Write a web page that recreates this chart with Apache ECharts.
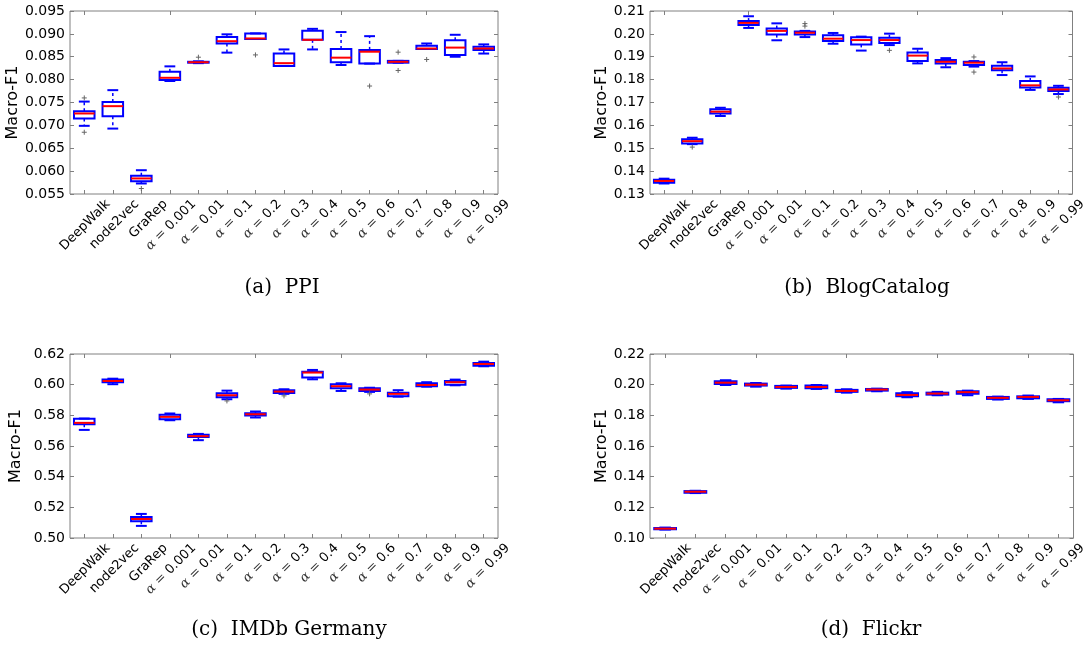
<!DOCTYPE html>
<html>
<head>
<meta charset="utf-8">
<script src="https://cdn.jsdelivr.net/npm/echarts@6/dist/echarts.min.js"></script>
<style>
  html, body { margin: 0; padding: 0; background: #fff; }
  #chart { width: 1089px; height: 645px; }
</style>
</head>
<body>
<div id="chart"></div>
<script>
// categories
const allCats = ['DeepWalk', 'node2vec', 'GraRep', 'α = 0.001', 'α = 0.01', 'α = 0.1', 'α = 0.2',
  'α = 0.3', 'α = 0.4', 'α = 0.5', 'α = 0.6', 'α = 0.7', 'α = 0.8', 'α = 0.9', 'α = 0.99'];
const flickrCats = allCats.filter(c => c !== 'GraRep');

// boxes: [min, q1, median, q3, max]
const ppiBoxes = [
  [0.0699, 0.0715, 0.0726, 0.0731, 0.0752],
  [0.0693, 0.0720, 0.0742, 0.0751, 0.0777],
  [0.0573, 0.0578, 0.0584, 0.0590, 0.0602],
  [0.0797, 0.0799, 0.0804, 0.0817, 0.0829],
  [0.0836, 0.0837, 0.0838, 0.0839, 0.0840],
  [0.0859, 0.0879, 0.0884, 0.0893, 0.0899],
  [0.0889, 0.0889, 0.0890, 0.0901, 0.0901],
  [0.0830, 0.0830, 0.0836, 0.0857, 0.0866],
  [0.0866, 0.0887, 0.0887, 0.0907, 0.0911],
  [0.0832, 0.0838, 0.0848, 0.0867, 0.0904],
  [0.0835, 0.0835, 0.0861, 0.0865, 0.0895],
  [0.0837, 0.0837, 0.0839, 0.0841, 0.0841],
  [0.0867, 0.0867, 0.0868, 0.0874, 0.0879],
  [0.0850, 0.0854, 0.0870, 0.0886, 0.0898],
  [0.0857, 0.0865, 0.0868, 0.0872, 0.0877]
];
const ppiOutliers = [[0, 0.0760], [0, 0.0685], [2, 0.0562], [4, 0.0849], [6, 0.0854],
  [10, 0.0786], [11, 0.0860], [11, 0.0820], [12, 0.0844]];

const blogBoxes = [
  [0.1346, 0.1349, 0.1357, 0.1362, 0.1367],
  [0.1518, 0.1521, 0.1531, 0.1539, 0.1546],
  [0.1641, 0.1652, 0.1660, 0.1670, 0.1677],
  [0.2026, 0.2039, 0.2048, 0.2056, 0.2077],
  [0.1972, 0.1997, 0.2013, 0.2023, 0.2046],
  [0.1986, 0.1997, 0.2005, 0.2010, 0.2013],
  [0.1957, 0.1969, 0.1979, 0.1994, 0.2004],
  [0.1927, 0.1954, 0.1973, 0.1985, 0.1988],
  [0.1951, 0.1960, 0.1973, 0.1983, 0.2001],
  [0.1871, 0.1881, 0.1905, 0.1919, 0.1935],
  [0.1854, 0.1870, 0.1878, 0.1886, 0.1894],
  [0.1857, 0.1864, 0.1874, 0.1878, 0.1881],
  [0.1820, 0.1841, 0.1849, 0.1861, 0.1876],
  [0.1755, 0.1766, 0.1775, 0.1794, 0.1814],
  [0.1737, 0.1750, 0.1757, 0.1765, 0.1773]
];
const blogOutliers = [[1, 0.1505], [5, 0.2045], [5, 0.2034], [8, 0.1928], [11, 0.1899],
  [11, 0.1833], [14, 0.1724]];

const imdbBoxes = [
  [0.5705, 0.5742, 0.5751, 0.5777, 0.5779],
  [0.6003, 0.6016, 0.6024, 0.6033, 0.6039],
  [0.5079, 0.5109, 0.5124, 0.5137, 0.5157],
  [0.5768, 0.5775, 0.5790, 0.5803, 0.5812],
  [0.5638, 0.5658, 0.5664, 0.5673, 0.5679],
  [0.5905, 0.5918, 0.5931, 0.5944, 0.5961],
  [0.5786, 0.5799, 0.5807, 0.5814, 0.5825],
  [0.5940, 0.5946, 0.5955, 0.5964, 0.5970],
  [0.6035, 0.6046, 0.6079, 0.6085, 0.6096],
  [0.5959, 0.5977, 0.5990, 0.6003, 0.6009],
  [0.5953, 0.5959, 0.5968, 0.5977, 0.5980],
  [0.5922, 0.5925, 0.5940, 0.5948, 0.5964],
  [0.5987, 0.5990, 0.5998, 0.6009, 0.6016],
  [0.5996, 0.6000, 0.6016, 0.6024, 0.6033],
  [0.6120, 0.6124, 0.6135, 0.6141, 0.6150]
];
const imdbOutliers = [[5, 0.5894], [7, 0.5927], [10, 0.5940]];

const flickrBoxes = [
  [0.1055, 0.1057, 0.1061, 0.1065, 0.1068],
  [0.1293, 0.1295, 0.1302, 0.1306, 0.1308],
  [0.1998, 0.2005, 0.2013, 0.2022, 0.2029],
  [0.1987, 0.1994, 0.2000, 0.2007, 0.2011],
  [0.1974, 0.1979, 0.1985, 0.1992, 0.1994],
  [0.1972, 0.1977, 0.1985, 0.1994, 0.1998],
  [0.1948, 0.1953, 0.1959, 0.1966, 0.1970],
  [0.1957, 0.1961, 0.1968, 0.1972, 0.1974],
  [0.1918, 0.1925, 0.1933, 0.1944, 0.1951],
  [0.1931, 0.1935, 0.1942, 0.1948, 0.1953],
  [0.1931, 0.1940, 0.1951, 0.1957, 0.1961],
  [0.1903, 0.1907, 0.1914, 0.1920, 0.1922],
  [0.1907, 0.1911, 0.1920, 0.1924, 0.1929],
  [0.1885, 0.1892, 0.1898, 0.1905, 0.1907]
];
const flickrOutliers = [];

// y axis ranges: [min, max, step, digits]
const ppiRange = [0.055, 0.095, 0.005, 3];
const blogRange = [0.13, 0.21, 0.01, 2];
const imdbRange = [0.50, 0.62, 0.02, 2];
const flickrRange = [0.10, 0.22, 0.02, 2];

const captions = ['(a)  PPI', '(b)  BlogCatalog', '(c)  IMDb Germany', '(d)  Flickr'];

const chart = echarts.init(document.getElementById('chart'));

const panels = [
  { cats: allCats, boxes: ppiBoxes, outliers: ppiOutliers, range: ppiRange,
    grid: { left: 70, top: 11, width: 428, height: 183 }, nameGap: 46, cap: [277, 273] },
  { cats: allCats, boxes: blogBoxes, outliers: blogOutliers, range: blogRange,
    grid: { left: 650, top: 11, width: 428, height: 183 }, nameGap: 38, cap: [862, 273] },
  { cats: allCats, boxes: imdbBoxes, outliers: imdbOutliers, range: imdbRange,
    grid: { left: 70, top: 354, width: 428, height: 184 }, nameGap: 46, cap: [284, 615] },
  { cats: flickrCats, boxes: flickrBoxes, outliers: flickrOutliers, range: flickrRange,
    grid: { left: 650, top: 354, width: 428, height: 184 }, nameGap: 38, cap: [866, 615] }
];

const BLUE = '#0000ff';
const RED = '#ff0000';
const FRAME = '#808080';

function catLabel(v) {
  if (v.indexOf('α') === 0) {
    return '{a|α}{b| = }{c|' + v.split('= ')[1] + '}';
  }
  return '{c|' + v + '}';
}

function renderBox(params, api) {
  const x = api.value(0);
  const lo = api.coord([x, api.value(1)]);
  const q1 = api.coord([x, api.value(2)]);
  const med = api.coord([x, api.value(3)]);
  const q3 = api.coord([x, api.value(4)]);
  const hi = api.coord([x, api.value(5)]);
  const band = api.size([1, 0])[0];
  const half = band * 0.36;
  const capHalf = band * 0.19;
  const cx = lo[0];
  const whisker = { stroke: BLUE, lineWidth: 1.5, lineDash: [3, 3] };
  const solid = { stroke: BLUE, lineWidth: 2 };
  return {
    type: 'group',
    children: [
      { type: 'line', shape: { x1: cx, y1: q3[1], x2: cx, y2: hi[1] }, style: whisker },
      { type: 'line', shape: { x1: cx, y1: q1[1], x2: cx, y2: lo[1] }, style: whisker },
      { type: 'line', shape: { x1: cx - capHalf, y1: hi[1], x2: cx + capHalf, y2: hi[1] }, style: solid },
      { type: 'line', shape: { x1: cx - capHalf, y1: lo[1], x2: cx + capHalf, y2: lo[1] }, style: solid },
      { type: 'rect', shape: { x: cx - half, y: q3[1], width: half * 2, height: Math.max(q1[1] - q3[1], 0.5) },
        style: { fill: 'rgba(255,255,255,0)', stroke: BLUE, lineWidth: 2 } },
      { type: 'line', shape: { x1: cx - half, y1: med[1], x2: cx + half, y2: med[1] },
        style: { stroke: RED, lineWidth: 2 } }
    ]
  };
}

function renderPlus(params, api) {
  const p = api.coord([api.value(0), api.value(1)]);
  const s = 2.5;
  const st = { stroke: '#666', lineWidth: 1 };
  return {
    type: 'group',
    children: [
      { type: 'line', shape: { x1: p[0] - s, y1: p[1], x2: p[0] + s, y2: p[1] }, style: st },
      { type: 'line', shape: { x1: p[0], y1: p[1] - s, x2: p[0], y2: p[1] + s }, style: st }
    ]
  };
}

const grid = [], xAxis = [], yAxis = [], series = [], title = [];

panels.forEach((p, i) => {
  grid.push(Object.assign({ show: true, borderColor: FRAME, borderWidth: 1, backgroundColor: '#fff' }, p.grid));
  const tick = { show: true, inside: true, length: 4, alignWithLabel: true, lineStyle: { color: FRAME } };
  xAxis.push({
    type: 'category', gridIndex: i, data: p.cats, position: 'bottom',
    axisLine: { show: false }, axisTick: tick,
    axisLabel: {
      interval: 0, rotate: 45, margin: -16, padding: [68, 0, 0, 0],
      formatter: catLabel,
      rich: {
        a: { fontFamily: 'DejaVu Serif', fontStyle: 'italic', fontSize: 13, color: '#333' },
        b: { fontFamily: 'DejaVu Serif', fontSize: 13, color: '#333' },
        c: { fontFamily: 'DejaVu Sans', fontSize: 13, color: '#000' }
      }
    }
  });
  xAxis.push({
    type: 'category', gridIndex: i, data: p.cats, position: 'top',
    axisLine: { show: false }, axisTick: tick, axisLabel: { show: false }
  });
  const r = p.range;
  const ytick = { show: true, inside: true, length: 4, lineStyle: { color: FRAME } };
  yAxis.push({
    type: 'value', gridIndex: i, min: r[0], max: r[1], interval: r[2], position: 'left',
    name: 'Macro-F1', nameLocation: 'middle', nameGap: p.nameGap,
    nameTextStyle: { fontFamily: 'DejaVu Sans', fontSize: 16, color: '#000' },
    axisLine: { show: false }, axisTick: ytick, splitLine: { show: false },
    axisLabel: { margin: 5, fontFamily: 'DejaVu Sans', fontSize: 14, color: '#000',
      formatter: v => v.toFixed(r[3]) }
  });
  yAxis.push({
    type: 'value', gridIndex: i, min: r[0], max: r[1], interval: r[2], position: 'right',
    axisLine: { show: false }, axisTick: ytick, splitLine: { show: false }, axisLabel: { show: false }
  });
  series.push({
    type: 'custom', xAxisIndex: i * 2, yAxisIndex: i * 2,
    renderItem: renderBox,
    encode: { x: 0, y: [1, 2, 3, 4, 5] },
    data: p.boxes.map((b, k) => [k].concat(b)),
    z: 3
  });
  series.push({
    type: 'custom', xAxisIndex: i * 2, yAxisIndex: i * 2,
    renderItem: renderPlus,
    encode: { x: 0, y: 1 },
    data: p.outliers,
    z: 4
  });
  title.push({
    text: captions[i], left: p.cap[0], top: p.cap[1], textAlign: 'center',
    textStyle: { fontFamily: 'DejaVu Serif', fontSize: 20, fontWeight: 'normal', color: '#000' }
  });
});

chart.setOption({
  animation: false,
  backgroundColor: '#fff',
  title: title,
  grid: grid,
  xAxis: xAxis,
  yAxis: yAxis,
  series: series
});
</script>
</body>
</html>
